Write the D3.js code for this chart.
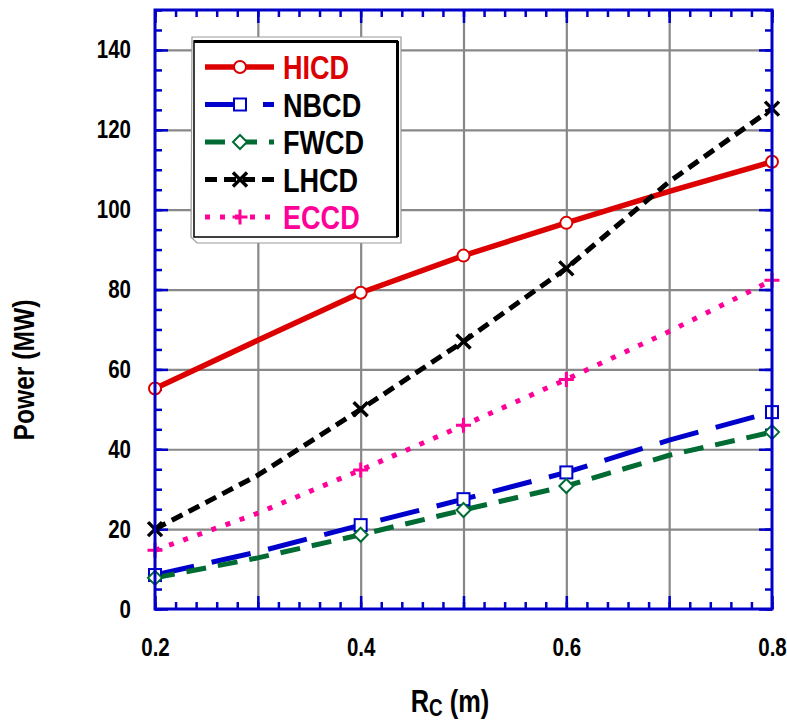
<!DOCTYPE html>
<html>
<head>
<meta charset="utf-8">
<script src="https://cdn.jsdelivr.net/npm/d3@7"></script>
<style>
  html, body { margin: 0; padding: 0; background: #fff; }
  svg { display: block; }
  .lbl { font-family: "Liberation Sans Narrow", "Arial Narrow", "Liberation Sans", Arial, sans-serif; font-weight: bold; }
</style>
</head>
<body>
<svg id="chart" width="787" height="724"></svg>
<script>
// Current-drive power versus Rc
const rc = [0.2, 0.3, 0.4, 0.5, 0.6, 0.7, 0.8];
const markedAt = [0.2, 0.4, 0.5, 0.6, 0.8];
const hicd = [55.2, 67.3, 79.2, 88.5, 96.7, 104.6, 112.0];
const nbcd = [8.5, 14.3, 21.0, 27.5, 34.2, 42.3, 49.3];
const fwcd = [7.8, 12.8, 18.6, 24.8, 30.8, 38.5, 44.3];
const lhcd = [20.0, 33.5, 50.0, 67.0, 85.3, 107.0, 125.3];
const eccd = [14.7, 24.0, 34.8, 46.0, 57.5, 69.5, 82.3];
const seriesNames = ["HICD", "NBCD", "FWCD", "LHCD", "ECCD"];
const xTickLabels = [0.2, 0.4, 0.6, 0.8];
const yTickLabels = [0, 20, 40, 60, 80, 100, 120, 140];

const series = [
  { name: seriesNames[0], values: hicd, color: "#dd0000", text: "#dd0000", width: 5.5, dash: null, marker: "circle" },
  { name: seriesNames[1], values: nbcd, color: "#0000cc", text: "#000000", width: 5, dash: "40,18", marker: "square" },
  { name: seriesNames[2], values: fwcd, color: "#006b33", text: "#000000", width: 5, dash: "20,12", marker: "diamond" },
  { name: seriesNames[3], values: lhcd, color: "#000000", text: "#000000", width: 5, dash: "12,7", marker: "cross" },
  { name: seriesNames[4], values: eccd, color: "#ff0099", text: "#ff0099", width: 5, dash: "5,10", marker: "plus" }
];

const svg = d3.select("#chart");
const plotL = 155, plotR = 772, plotT = 10, plotB = 609;
const x = d3.scaleLinear().domain([0.2, 0.8]).range([plotL, plotR]);
const y = d3.scaleLinear().domain([0, 150]).range([plotB, plotT]);
const axisColor = "#0000c8";

// condensed bold lettering: squeeze each label to a narrow width
function narrow(sel, k = 0.82) {
  sel.each(function () {
    const w = this.getComputedTextLength();
    d3.select(this).attr("textLength", w * k).attr("lengthAdjust", "spacingAndGlyphs");
  });
}

// grid lines
const gridX = svg.append("g").attr("transform", `translate(0,${plotB})`)
  .call(d3.axisBottom(x).tickValues([0.3, 0.4, 0.5, 0.6, 0.7]).tickSize(-(plotB - plotT)).tickFormat(""));
const gridY = svg.append("g").attr("transform", `translate(${plotL},0)`)
  .call(d3.axisLeft(y).tickValues([20, 40, 60, 80, 100, 120, 140]).tickSize(-(plotR - plotL)).tickFormat(""));
[gridX, gridY].forEach(g => {
  g.select(".domain").remove();
  g.selectAll("line").attr("stroke", "#888").attr("stroke-width", 2.2);
});

// inward ticks on all four sides
const xMinor = d3.range(0, 31).map(i => 0.2 + i * 0.02);
const xMajor = d3.range(0, 7).map(i => 0.2 + i * 0.1);
const yMinor = d3.range(0, 31).map(i => i * 5);
const yMajor = d3.range(0, 8).map(i => i * 20);
function tickGroup(axisFn, scale, vals, size, tx, ty) {
  const g = svg.append("g").attr("transform", `translate(${tx},${ty})`)
    .call(axisFn(scale).tickValues(vals).tickSize(size).tickFormat(""));
  g.select(".domain").remove();
  g.selectAll("line").attr("stroke", axisColor).attr("stroke-width", 2.5);
}
tickGroup(d3.axisBottom, x, xMinor, -7, 0, plotB);
tickGroup(d3.axisBottom, x, xMajor, -13, 0, plotB);
tickGroup(d3.axisTop, x, xMinor, -7, 0, plotT);
tickGroup(d3.axisTop, x, xMajor, -13, 0, plotT);
tickGroup(d3.axisLeft, y, yMinor, -7, plotL, 0);
tickGroup(d3.axisLeft, y, yMajor, -13, plotL, 0);
tickGroup(d3.axisRight, y, yMinor, -7, plotR, 0);
tickGroup(d3.axisRight, y, yMajor, -13, plotR, 0);

// tick labels
const xl = svg.append("g").attr("transform", `translate(0,${plotB})`)
  .call(d3.axisBottom(x).tickValues(xTickLabels).tickSize(0).tickPadding(29).tickFormat(d3.format(".1f")));
xl.select(".domain").remove();
xl.selectAll("text").attr("class", "lbl").attr("font-size", 25).attr("fill", "#000")
  .attr("transform", "scale(0.82,1)");
const yl = svg.append("g").attr("transform", `translate(${plotL},0)`)
  .call(d3.axisLeft(y).tickValues(yTickLabels).tickSize(0).tickPadding(24).tickFormat(d3.format("d")));
yl.select(".domain").remove();
yl.selectAll("text").attr("class", "lbl").attr("font-size", 25).attr("fill", "#000").call(narrow);

// series lines
const line = d3.line().x((d, i) => x(rc[i])).y(d => y(d));
series.forEach(s => {
  svg.append("path").datum(s.values)
    .attr("d", line)
    .attr("fill", "none")
    .attr("stroke", s.color)
    .attr("stroke-width", s.width)
    .attr("stroke-dasharray", s.dash)
    .attr("stroke-linejoin", "round");
});

function drawMarker(g, type, cx, cy, color) {
  if (type === "circle") {
    g.append("circle").attr("cx", cx).attr("cy", cy).attr("r", 6)
      .attr("fill", "#fff").attr("stroke", color).attr("stroke-width", 2);
  } else if (type === "square") {
    g.append("rect").attr("x", cx - 6).attr("y", cy - 6).attr("width", 12).attr("height", 12)
      .attr("fill", "#fff").attr("stroke", color).attr("stroke-width", 2);
  } else if (type === "diamond") {
    g.append("path").attr("d", `M${cx},${cy - 7}L${cx + 7},${cy}L${cx},${cy + 7}L${cx - 7},${cy}Z`)
      .attr("fill", "#fff").attr("stroke", color).attr("stroke-width", 2);
  } else if (type === "cross") {
    g.append("path").attr("d", `M${cx - 7},${cy - 7}L${cx + 7},${cy + 7}M${cx - 7},${cy + 7}L${cx + 7},${cy - 7}`)
      .attr("stroke", color).attr("stroke-width", 3.5);
  } else if (type === "plus") {
    g.append("path").attr("d", `M${cx - 7.5},${cy}L${cx + 7.5},${cy}M${cx},${cy - 7.5}L${cx},${cy + 7.5}`)
      .attr("stroke", color).attr("stroke-width", 3);
  }
}

// markers
series.forEach(s => {
  const g = svg.append("g");
  rc.forEach((r, i) => {
    if (markedAt.some(m => Math.abs(m - r) < 1e-9)) drawMarker(g, s.marker, x(r), y(s.values[i]), s.color);
  });
});

// frame
svg.append("rect").attr("x", plotL).attr("y", plotT).attr("width", plotR - plotL).attr("height", plotB - plotT)
  .attr("fill", "none").attr("stroke", axisColor).attr("stroke-width", 3);

// legend
const lg = svg.append("g");
lg.append("path").attr("d", "M192,37L401,37L401,243L197,243L191,237Z")
  .attr("fill", "#fff").attr("stroke", "#999").attr("stroke-width", 1.2);
lg.append("rect").attr("x", 194).attr("y", 41).attr("width", 203).attr("height", 196)
  .attr("fill", "#fff").attr("stroke", "#000").attr("stroke-width", 1.5);
lg.append("line").attr("x1", 194).attr("x2", 398).attr("y1", 41.5).attr("y2", 41.5).attr("stroke", "#000").attr("stroke-width", 3);
lg.append("line").attr("x1", 397.5).attr("x2", 397.5).attr("y1", 41).attr("y2", 237).attr("stroke", "#000").attr("stroke-width", 3);
series.forEach((s, i) => {
  const cy = 67 + i * 37.5;
  lg.append("line").attr("x1", 205).attr("x2", 274).attr("y1", cy).attr("y2", cy)
    .attr("stroke", s.color).attr("stroke-width", s.width).attr("stroke-dasharray", s.dash);
  drawMarker(lg, s.marker, 240, cy, s.color);
  lg.append("text").attr("class", "lbl").attr("x", 283).attr("y", cy + 12)
    .attr("font-size", 33).attr("fill", s.text).text(s.name).call(narrow);
});

// axis titles
svg.append("text").attr("class", "lbl").attr("font-size", 30).attr("text-anchor", "middle")
  .attr("transform", "translate(34,370) rotate(-90)").text("Power (MW)").call(narrow);
const xt = svg.append("text").attr("class", "lbl").attr("font-size", 31)
  .attr("transform", "translate(450,712) scale(0.82,1)").attr("text-anchor", "middle");
xt.append("tspan").text("R");
xt.append("tspan").attr("font-size", 23).attr("dy", 4).text("C");
xt.append("tspan").attr("dy", -4).text(" (m)");
</script>
</body>
</html>
